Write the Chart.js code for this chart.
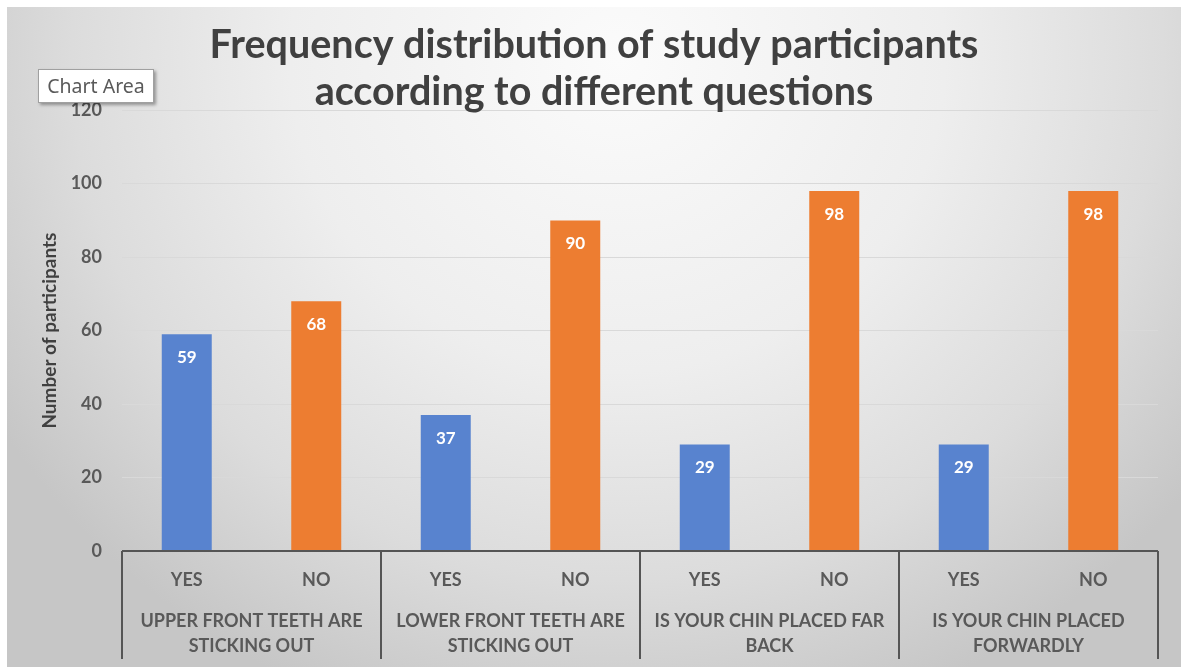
<!DOCTYPE html>
<html>
<head>
<meta charset="utf-8">
<script src="https://cdn.jsdelivr.net/npm/chart.js@4.4.1/dist/chart.umd.min.js"></script>
<style>
  html, body { margin: 0; padding: 0; background: #ffffff; }
  #wrap { position: relative; width: 1181px; height: 667px; overflow: hidden; }
  #bg { position: absolute; left: 7px; top: 7px; width: 1174px; height: 660px;
        background: radial-gradient(ellipse 62% 105% at 52% 8%, #fbfbfb 0%, #eeeeee 45%, #dcdcdc 75%, #c6c6c6 100%); }
  #c { position: absolute; left: 0; top: 0; }
  #tip { position: absolute; left: 38px; top: 69px; width: 114px; height: 32px;
         background: #ffffff; border: 1px solid #a0a0a0; box-shadow: 2px 2px 3px rgba(0,0,0,0.35);
         font-family: "Noto Sans", "Open Sans", sans-serif; font-size: 19.5px; color: #5a5a5a;
         line-height: 32px; text-align: center; }
</style>
</head>
<body>
<div id="wrap">
  <div id="bg"></div>
  <canvas id="c" width="1181" height="667"></canvas>
  <div id="tip">Chart Area</div>
</div>
<script>
const chartTitle = ['Frequency distribution of study participants', 'according to different questions'];
const yAxisTitle = 'Number of participants';
const questions = [
  ['UPPER FRONT TEETH ARE', 'STICKING OUT'],
  ['LOWER FRONT TEETH ARE', 'STICKING OUT'],
  ['IS YOUR CHIN PLACED FAR', 'BACK'],
  ['IS YOUR CHIN PLACED', 'FORWARDLY']
];
const answers = ['YES', 'NO'];
const yesValues = [59, 37, 29, 29];
const noValues = [68, 90, 98, 98];
const yMin = 0, yMax = 120, yStep = 20;

const yesColor = '#5883cf';
const noColor = '#ed7d31';
const textColor = '#595959';
const FONT = 'Lato, "Open Sans", sans-serif';

// build flat categories: YES/NO per question
const labels = [];
const values = [];
const colors = [];
questions.forEach((q, i) => {
  labels.push(answers[0]); values.push(yesValues[i]); colors.push(yesColor);
  labels.push(answers[1]); values.push(noValues[i]); colors.push(noColor);
});

const groupPlugin = {
  id: 'groupPlugin',
  afterDraw(chart) {
    const ctx = chart.ctx;
    const x = chart.scales.x;
    const x2 = chart.scales.x2;
    const area = chart.chartArea;
    const top = x.top;
    const bottom = x2.bottom;
    const bounds = [area.left];
    for (let i = 1; i < questions.length; i++) {
      bounds.push((x.getPixelForValue(2 * i - 1) + x.getPixelForValue(2 * i)) / 2);
    }
    bounds.push(area.right);
    ctx.save();
    ctx.strokeStyle = '#555555';
    ctx.lineWidth = 2;
    ctx.beginPath();
    ctx.moveTo(area.left, top);
    ctx.lineTo(area.right, top);
    bounds.forEach(b => {
      ctx.moveTo(b, top);
      ctx.lineTo(b, bottom);
    });
    ctx.stroke();
    const meta = chart.getDatasetMeta(0);
    ctx.fillStyle = '#ffffff';
    ctx.font = 'bold 17px ' + FONT;
    ctx.textAlign = 'center';
    ctx.textBaseline = 'middle';
    meta.data.forEach((bar, i) => {
      ctx.fillText(String(values[i]), bar.x, bar.y + 23);
    });
    ctx.restore();
  }
};

new Chart(document.getElementById('c'), {
  type: 'bar',
  data: {
    labels: labels,
    datasets: [{
      data: values,
      backgroundColor: colors,
      borderWidth: 0,
      categoryPercentage: 1.0,
      barPercentage: 0.386
    }]
  },
  options: {
    responsive: false,
    animation: false,
    events: [],
    layout: { padding: { left: 7, right: 0, top: 7, bottom: 8 } },
    plugins: {
      legend: { display: false },
      tooltip: { enabled: false },
      title: {
        display: true,
        text: chartTitle,
        color: '#404040',
        font: { family: FONT, size: 39.5, weight: 'bold', lineHeight: 1.18 },
        padding: { top: 15, bottom: -5 }
      }
    },
    scales: {
      x: {
        type: 'category',
        position: 'bottom',
        grid: { display: false, drawTicks: false },
        border: { display: false },
        ticks: { color: textColor, font: { family: FONT, size: 18, weight: 'bold' }, padding: 18, maxRotation: 0, autoSkip: false },
        afterFit(s) { s.height = 48; }
      },
      x2: {
        type: 'category',
        position: 'bottom',
        labels: questions,
        offset: true,
        grid: { display: false, drawTicks: false },
        border: { display: false },
        ticks: { color: textColor, font: { family: FONT, size: 18, weight: 'bold', lineHeight: 1.39 }, padding: 10, maxRotation: 0, autoSkip: false },
        afterFit(s) { s.height = 60; }
      },
      y: {
        min: yMin,
        max: yMax,
        ticks: { stepSize: yStep, color: textColor, font: { family: FONT, size: 18, weight: 'bold' }, padding: 20 },
        grid: { color: '#d9d9d9', lineWidth: 1, drawTicks: false },
        border: { display: false },
        title: { display: true, text: yAxisTitle, color: '#404040', font: { family: FONT, size: 19, weight: 'bold' }, padding: { top: 31, bottom: 0 } },
        afterFit(s) { s.width = 115; }
      },
      yRight: {
        position: 'right',
        min: yMin,
        max: yMax,
        ticks: { display: false },
        grid: { display: false, drawTicks: false },
        border: { display: false },
        afterFit(s) { s.width = 23; }
      }
    }
  },
  plugins: [groupPlugin]
});
</script>
</body>
</html>
